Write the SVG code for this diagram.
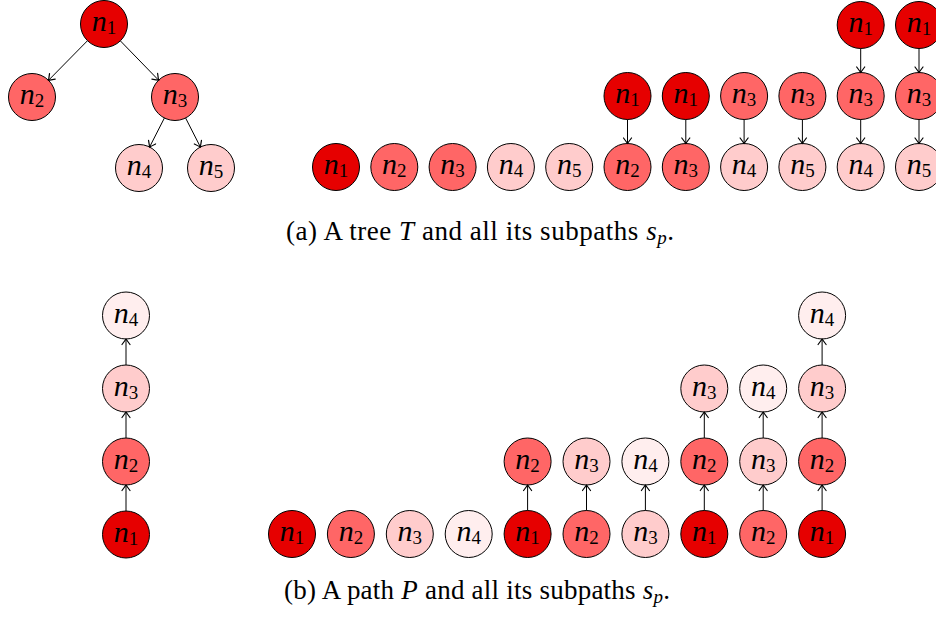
<svg xmlns="http://www.w3.org/2000/svg" width="936" height="617" viewBox="0 0 936 617">
<defs>
<marker id="ah" viewBox="-7 -5 9 10" refX="0" refY="0" markerWidth="9" markerHeight="10" markerUnits="userSpaceOnUse" orient="auto">
<path d="M-5.5,-4 Q-1.5,-1 0,0 Q-1.5,1 -5.5,4" fill="none" stroke="#000" stroke-width="1.2" stroke-linecap="round"/>
</marker>
</defs>
<style>
circle{stroke:#000;stroke-width:1}
.c1{fill:#E60000}.c2{fill:#FF6666}.c3{fill:#FFCCCC}.c4{fill:#FFEEEE}
.lbl{font-family:"Liberation Serif",serif;font-size:30px;text-anchor:middle;fill:#000}
.lbl .n{font-style:italic}
.lbl .s{font-size:19px}
.edges line{stroke:#000;stroke-width:1;marker-end:url(#ah)}
.cap{font-family:"Liberation Serif",serif;font-size:27px;fill:#000}
.cap .i{font-style:italic}
.cap .sub{font-size:19px;font-style:italic}
</style>
<rect width="936" height="617" fill="#fff"/>

<!-- (a) tree -->
<g id="t_n1"><circle class="c1" cx="104" cy="24" r="23.5"/><text class="lbl" x="104" y="31"><tspan class="n">n</tspan><tspan class="s" dy="3">1</tspan></text></g>
<g id="t_n2"><circle class="c2" cx="32" cy="97" r="23.5"/><text class="lbl" x="32" y="104"><tspan class="n">n</tspan><tspan class="s" dy="3">2</tspan></text></g>
<g id="t_n3"><circle class="c2" cx="175" cy="97" r="23.5"/><text class="lbl" x="175" y="104"><tspan class="n">n</tspan><tspan class="s" dy="3">3</tspan></text></g>
<g id="t_n4"><circle class="c3" cx="139" cy="168" r="23.5"/><text class="lbl" x="139" y="175"><tspan class="n">n</tspan><tspan class="s" dy="3">4</tspan></text></g>
<g id="t_n5"><circle class="c3" cx="211" cy="168" r="23.5"/><text class="lbl" x="211" y="175"><tspan class="n">n</tspan><tspan class="s" dy="3">5</tspan></text></g>

<!-- (a) subpaths -->
<g id="a1"><circle class="c1" cx="336" cy="167" r="23.5"/><text class="lbl" x="336" y="174"><tspan class="n">n</tspan><tspan class="s" dy="3">1</tspan></text></g>
<g id="a2"><circle class="c2" cx="394.3" cy="167" r="23.5"/><text class="lbl" x="394.3" y="174"><tspan class="n">n</tspan><tspan class="s" dy="3">2</tspan></text></g>
<g id="a3"><circle class="c2" cx="452.6" cy="167" r="23.5"/><text class="lbl" x="452.6" y="174"><tspan class="n">n</tspan><tspan class="s" dy="3">3</tspan></text></g>
<g id="a4"><circle class="c3" cx="510.9" cy="167" r="23.5"/><text class="lbl" x="510.9" y="174"><tspan class="n">n</tspan><tspan class="s" dy="3">4</tspan></text></g>
<g id="a5"><circle class="c3" cx="569.2" cy="167" r="23.5"/><text class="lbl" x="569.2" y="174"><tspan class="n">n</tspan><tspan class="s" dy="3">5</tspan></text></g>
<g id="a6"><circle class="c1" cx="627.5" cy="96" r="23.5"/><text class="lbl" x="627.5" y="103"><tspan class="n">n</tspan><tspan class="s" dy="3">1</tspan></text>
<circle class="c2" cx="627.5" cy="167" r="23.5"/><text class="lbl" x="627.5" y="174"><tspan class="n">n</tspan><tspan class="s" dy="3">2</tspan></text></g>
<g id="a7"><circle class="c1" cx="685.8" cy="96" r="23.5"/><text class="lbl" x="685.8" y="103"><tspan class="n">n</tspan><tspan class="s" dy="3">1</tspan></text>
<circle class="c2" cx="685.8" cy="167" r="23.5"/><text class="lbl" x="685.8" y="174"><tspan class="n">n</tspan><tspan class="s" dy="3">3</tspan></text></g>
<g id="a8"><circle class="c2" cx="744.1" cy="96" r="23.5"/><text class="lbl" x="744.1" y="103"><tspan class="n">n</tspan><tspan class="s" dy="3">3</tspan></text>
<circle class="c3" cx="744.1" cy="167" r="23.5"/><text class="lbl" x="744.1" y="174"><tspan class="n">n</tspan><tspan class="s" dy="3">4</tspan></text></g>
<g id="a9"><circle class="c2" cx="802.4" cy="96" r="23.5"/><text class="lbl" x="802.4" y="103"><tspan class="n">n</tspan><tspan class="s" dy="3">3</tspan></text>
<circle class="c3" cx="802.4" cy="167" r="23.5"/><text class="lbl" x="802.4" y="174"><tspan class="n">n</tspan><tspan class="s" dy="3">5</tspan></text></g>
<g id="a10"><circle class="c1" cx="860.7" cy="25" r="23.5"/><text class="lbl" x="860.7" y="32"><tspan class="n">n</tspan><tspan class="s" dy="3">1</tspan></text>
<circle class="c2" cx="860.7" cy="96" r="23.5"/><text class="lbl" x="860.7" y="103"><tspan class="n">n</tspan><tspan class="s" dy="3">3</tspan></text>
<circle class="c3" cx="860.7" cy="167" r="23.5"/><text class="lbl" x="860.7" y="174"><tspan class="n">n</tspan><tspan class="s" dy="3">4</tspan></text></g>
<g id="a11"><circle class="c1" cx="919" cy="25" r="23.5"/><text class="lbl" x="919" y="32"><tspan class="n">n</tspan><tspan class="s" dy="3">1</tspan></text>
<circle class="c2" cx="919" cy="96" r="23.5"/><text class="lbl" x="919" y="103"><tspan class="n">n</tspan><tspan class="s" dy="3">3</tspan></text>
<circle class="c3" cx="919" cy="167" r="23.5"/><text class="lbl" x="919" y="174"><tspan class="n">n</tspan><tspan class="s" dy="3">5</tspan></text></g>

<!-- (b) path -->
<g id="p_n4"><circle class="c4" cx="126" cy="315.5" r="23.5"/><text class="lbl" x="126" y="322.5"><tspan class="n">n</tspan><tspan class="s" dy="3">4</tspan></text></g>
<g id="p_n3"><circle class="c3" cx="126" cy="388.5" r="23.5"/><text class="lbl" x="126" y="395.5"><tspan class="n">n</tspan><tspan class="s" dy="3">3</tspan></text></g>
<g id="p_n2"><circle class="c2" cx="126" cy="461.5" r="23.5"/><text class="lbl" x="126" y="468.5"><tspan class="n">n</tspan><tspan class="s" dy="3">2</tspan></text></g>
<g id="p_n1"><circle class="c1" cx="126" cy="534.5" r="23.5"/><text class="lbl" x="126" y="541.5"><tspan class="n">n</tspan><tspan class="s" dy="3">1</tspan></text></g>

<!-- (b) subpaths -->
<g id="b1"><circle class="c1" cx="292" cy="534" r="23.5"/><text class="lbl" x="292" y="541"><tspan class="n">n</tspan><tspan class="s" dy="3">1</tspan></text></g>
<g id="b2"><circle class="c2" cx="350.9" cy="534" r="23.5"/><text class="lbl" x="350.9" y="541"><tspan class="n">n</tspan><tspan class="s" dy="3">2</tspan></text></g>
<g id="b3"><circle class="c3" cx="409.8" cy="534" r="23.5"/><text class="lbl" x="409.8" y="541"><tspan class="n">n</tspan><tspan class="s" dy="3">3</tspan></text></g>
<g id="b4"><circle class="c4" cx="468.7" cy="534" r="23.5"/><text class="lbl" x="468.7" y="541"><tspan class="n">n</tspan><tspan class="s" dy="3">4</tspan></text></g>
<g id="b5"><circle class="c1" cx="527.6" cy="534" r="23.5"/><text class="lbl" x="527.6" y="541"><tspan class="n">n</tspan><tspan class="s" dy="3">1</tspan></text>
<circle class="c2" cx="527.6" cy="461.5" r="23.5"/><text class="lbl" x="527.6" y="468.5"><tspan class="n">n</tspan><tspan class="s" dy="3">2</tspan></text></g>
<g id="b6"><circle class="c2" cx="586.5" cy="534" r="23.5"/><text class="lbl" x="586.5" y="541"><tspan class="n">n</tspan><tspan class="s" dy="3">2</tspan></text>
<circle class="c3" cx="586.5" cy="461.5" r="23.5"/><text class="lbl" x="586.5" y="468.5"><tspan class="n">n</tspan><tspan class="s" dy="3">3</tspan></text></g>
<g id="b7"><circle class="c3" cx="645.4" cy="534" r="23.5"/><text class="lbl" x="645.4" y="541"><tspan class="n">n</tspan><tspan class="s" dy="3">3</tspan></text>
<circle class="c4" cx="645.4" cy="461.5" r="23.5"/><text class="lbl" x="645.4" y="468.5"><tspan class="n">n</tspan><tspan class="s" dy="3">4</tspan></text></g>
<g id="b8"><circle class="c1" cx="704.3" cy="534" r="23.5"/><text class="lbl" x="704.3" y="541"><tspan class="n">n</tspan><tspan class="s" dy="3">1</tspan></text>
<circle class="c2" cx="704.3" cy="461.5" r="23.5"/><text class="lbl" x="704.3" y="468.5"><tspan class="n">n</tspan><tspan class="s" dy="3">2</tspan></text>
<circle class="c3" cx="704.3" cy="388.5" r="23.5"/><text class="lbl" x="704.3" y="395.5"><tspan class="n">n</tspan><tspan class="s" dy="3">3</tspan></text></g>
<g id="b9"><circle class="c2" cx="763.2" cy="534" r="23.5"/><text class="lbl" x="763.2" y="541"><tspan class="n">n</tspan><tspan class="s" dy="3">2</tspan></text>
<circle class="c3" cx="763.2" cy="461.5" r="23.5"/><text class="lbl" x="763.2" y="468.5"><tspan class="n">n</tspan><tspan class="s" dy="3">3</tspan></text>
<circle class="c4" cx="763.2" cy="388.5" r="23.5"/><text class="lbl" x="763.2" y="395.5"><tspan class="n">n</tspan><tspan class="s" dy="3">4</tspan></text></g>
<g id="b10"><circle class="c1" cx="822.1" cy="534" r="23.5"/><text class="lbl" x="822.1" y="541"><tspan class="n">n</tspan><tspan class="s" dy="3">1</tspan></text>
<circle class="c2" cx="822.1" cy="461.5" r="23.5"/><text class="lbl" x="822.1" y="468.5"><tspan class="n">n</tspan><tspan class="s" dy="3">2</tspan></text>
<circle class="c3" cx="822.1" cy="388.5" r="23.5"/><text class="lbl" x="822.1" y="395.5"><tspan class="n">n</tspan><tspan class="s" dy="3">3</tspan></text>
<circle class="c4" cx="822.1" cy="315.5" r="23.5"/><text class="lbl" x="822.1" y="322.5"><tspan class="n">n</tspan><tspan class="s" dy="3">4</tspan></text></g>

<g class="edges" id="edges">
<!-- tree -->
<line x1="87.5" y1="40.7" x2="48.5" y2="80.3"/>
<line x1="120.4" y1="40.9" x2="158.6" y2="80.2"/>
<line x1="164.4" y1="118" x2="149.6" y2="147"/>
<line x1="185.6" y1="118" x2="200.4" y2="147"/>
<!-- (a) subpaths, down -->
<line x1="627.5" y1="119.5" x2="627.5" y2="143.5"/>
<line x1="685.8" y1="119.5" x2="685.8" y2="143.5"/>
<line x1="744.1" y1="119.5" x2="744.1" y2="143.5"/>
<line x1="802.4" y1="119.5" x2="802.4" y2="143.5"/>
<line x1="860.7" y1="48.5" x2="860.7" y2="72.5"/>
<line x1="860.7" y1="119.5" x2="860.7" y2="143.5"/>
<line x1="919" y1="48.5" x2="919" y2="72.5"/>
<line x1="919" y1="119.5" x2="919" y2="143.5"/>
<!-- (b) path, up -->
<line x1="126" y1="511" x2="126" y2="485"/>
<line x1="126" y1="438" x2="126" y2="412"/>
<line x1="126" y1="365" x2="126" y2="339"/>
<!-- (b) subpaths, up -->
<line x1="527.6" y1="510.5" x2="527.6" y2="485"/>
<line x1="586.5" y1="510.5" x2="586.5" y2="485"/>
<line x1="645.4" y1="510.5" x2="645.4" y2="485"/>
<line x1="704.3" y1="510.5" x2="704.3" y2="485"/>
<line x1="704.3" y1="438" x2="704.3" y2="412"/>
<line x1="763.2" y1="510.5" x2="763.2" y2="485"/>
<line x1="763.2" y1="438" x2="763.2" y2="412"/>
<line x1="822.1" y1="510.5" x2="822.1" y2="485"/>
<line x1="822.1" y1="438" x2="822.1" y2="412"/>
<line x1="822.1" y1="365" x2="822.1" y2="339"/>
</g>

<text class="cap" x="286" y="240" textLength="388" lengthAdjust="spacing">(a) A tree <tspan class="i">T</tspan> and all its subpaths <tspan class="i">s</tspan><tspan class="sub" dy="4">p</tspan><tspan dy="-4">.</tspan></text>
<text class="cap" x="284" y="599" textLength="386" lengthAdjust="spacing">(b) A path <tspan class="i">P</tspan> and all its subpaths <tspan class="i">s</tspan><tspan class="sub" dy="4">p</tspan><tspan dy="-4">.</tspan></text>
</svg>
